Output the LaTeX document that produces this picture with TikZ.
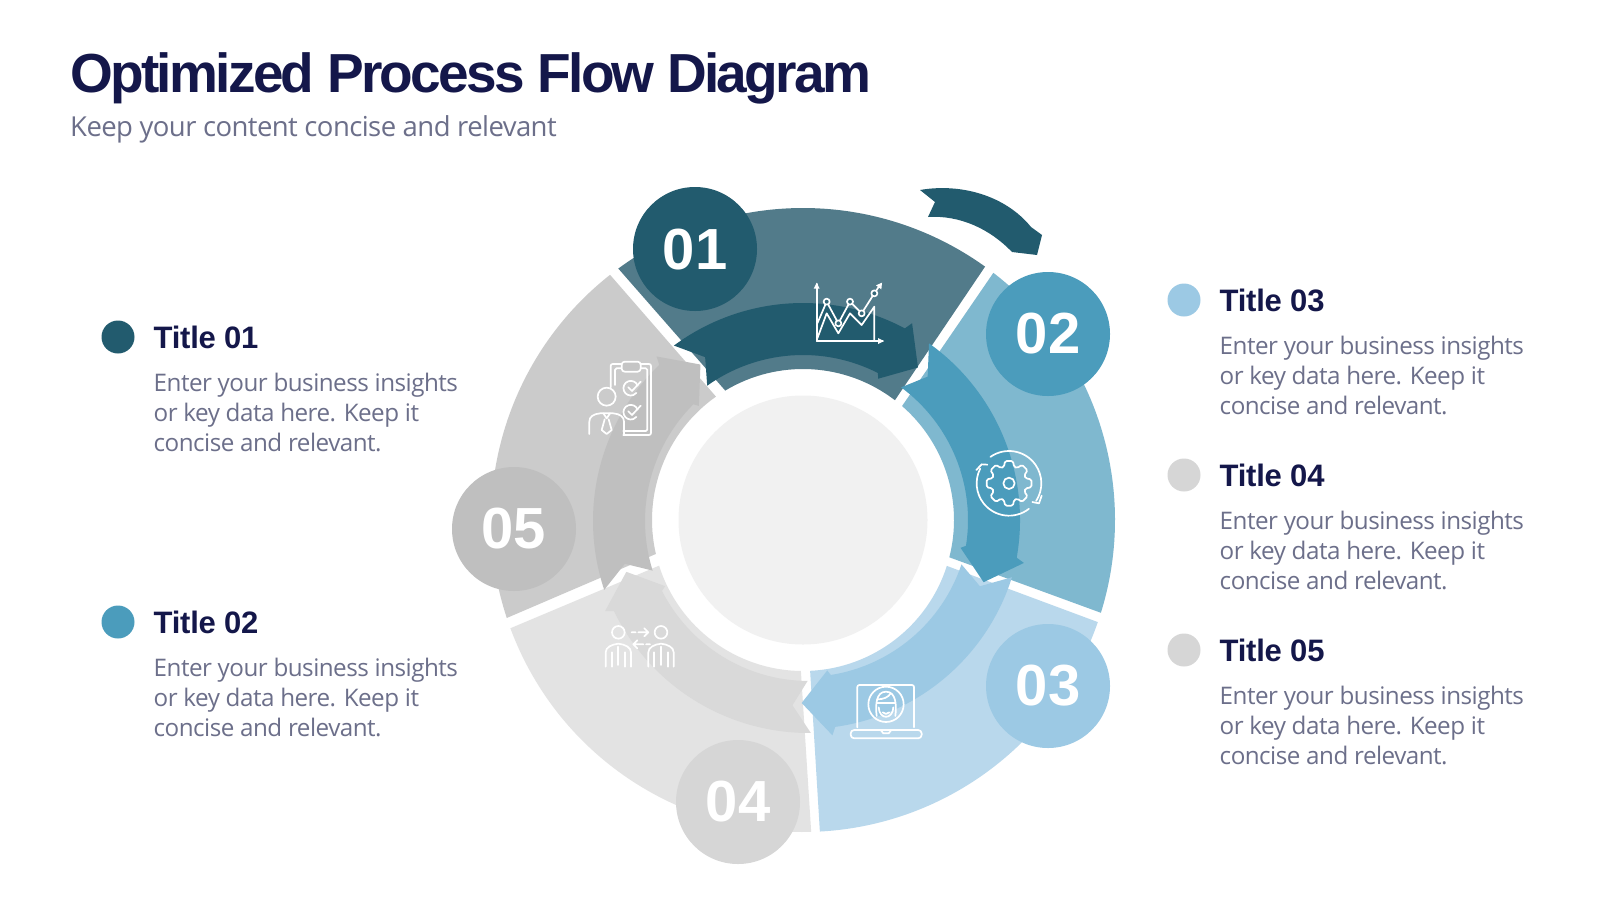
\documentclass[tikz,border=0pt]{standalone}
\usepackage{fontspec}
\setmainfont[LetterSpace=-2.1]{Open Sans}
\newfontfamily\headfont[LetterSpace=-4.9]{Liberation Sans}
\newfontfamily\subheadfont[LetterSpace=-0.8]{Liberation Sans}
\newfontfamily\numfont{Liberation Sans}
\definecolor{navy}{HTML}{14174A}
\definecolor{greytext}{HTML}{6C6F8A}
\definecolor{cA}{HTML}{225B6E}\definecolor{sA}{HTML}{527B8A}
\definecolor{cB}{HTML}{4B9CBC}\definecolor{sB}{HTML}{7FB8CF}
\definecolor{cC}{HTML}{9CC9E4}\definecolor{sC}{HTML}{B9D8EC}
\definecolor{cD}{HTML}{D6D6D6}\definecolor{sD}{HTML}{E3E3E3}
\definecolor{aD}{HTML}{D9D9D9}
\definecolor{cE}{HTML}{BFBFBF}\definecolor{sE}{HTML}{CBCBCB}
\definecolor{core}{HTML}{F1F1F1}
\tikzset{
  numdisc/.style={circle,minimum size=124pt,inner sep=0pt,text=white,font=\numfont\bfseries\fontsize{58}{58}\selectfont},
  legdot/.style={circle,minimum size=33pt,inner sep=0pt},
  legtitle/.style={anchor=base west,inner sep=0pt,text=navy,font=\subheadfont\bfseries\fontsize{31}{31}\selectfont},
  legbody/.style={anchor=base west,inner sep=0pt,text=greytext,font=\fontsize{24.2}{30}\selectfont},
  icon/.style={draw=white,line width=1.7pt,line cap=round,line join=round,fill=none},
}
% cx cy rotation colour
\newcommand{\flowarrow}[4]{%
 \begin{scope}[shift={(#1,-#2)},rotate=#3]
 \fill[#4] (126.5:217pt) arc[start angle=126.5,end angle=62,radius=217pt] -- (61:225pt) -- (53:191pt) -- (62:160pt) -- (63:165pt) arc[start angle=63,end angle=125.5,radius=165pt] -- (121:190pt) -- cycle;
 \end{scope}}
% a1 a2 a3 a4 colour: outer a1->a2, inner a3->a4
\newcommand{\ringpart}[5]{%
 \fill[#5] (#1:312pt) arc[start angle=#1,end angle=#2,radius=312pt] -- (#3:151pt) arc[start angle=#3,end angle=#4,radius=151pt] -- cycle;}
\newcommand{\legend}[6]{%
 \node[legdot,fill=#1] (#2d) at (#3,-#4) {};
 \node[legtitle] (#2t) at (#3+35.5,-#4-11) {#5};
 \node[legbody] (#2a) at (#3+35.5,-#4-54) {Enter your business insights};
 \node[legbody] (#2b) at (#3+35.5,-#4-84) {or key data here. Keep it};
 \node[legbody] (#2c) at (#3+35.5,-#4-114) {concise and relevant.};}
\begin{document}
\begin{tikzpicture}[x=1pt,y=1pt]
\useasboundingbox (0,0) rectangle (1600,-900);
\fill[white] (0,0) rectangle (1600,-900);
\node[anchor=base west,inner sep=0pt,text=navy,font=\headfont\bfseries\fontsize{55}{55}\selectfont] (title) at (70,-92) {Optimized Process Flow Diagram};
\node[anchor=base west,inner sep=0pt,text=greytext,font=\fontsize{27.5}{30}\selectfont] (sub) at (70,-136) {Keep your content concise and relevant};
% ring
\begin{scope}[shift={(803,-520)}]
\ringpart{126.3}{54.3}{52.5}{121}{sA}
\ringpart{52.4}{-17.3}{-14.3}{49}{sB}
\ringpart{-19.1}{-86.9}{-87.3}{-17.7}{sC}
\ringpart{-88.5}{-159.7}{-162.4}{-90.8}{sD}
\ringpart{-161.7}{-231.8}{-234.8}{-167}{sE}
\fill[core] (0,0) circle[radius=124.5pt];
\end{scope}
% inner arrows
\flowarrow{803}{520}{0}{cA}
\flowarrow{803}{520}{-72}{cB}
\flowarrow{805}{512}{-144}{cC}
\flowarrow{809}{516}{-216}{aD}
\flowarrow{810}{521}{-288}{cE}
% top arrow
\fill[cA] (920,-190) .. controls (960,-183) and (1005,-195) .. (1031,-227) -- (1042,-235) -- (1037,-255) -- (1012,-252) .. controls (990,-229) and (960,-215) .. (928,-217) -- (935,-202) -- cycle;
% number discs
\node[numdisc,fill=cA,text depth=0pt] (n1) at (695,-249) {\raisebox{-1pt}{01}};
\node[numdisc,fill=cB] (n2) at (1048,-334) {\raisebox{-1pt}{02}};
\node[numdisc,fill=cC] (n3) at (1048,-686) {\raisebox{-1pt}{03}};
\node[numdisc,fill=cD] (n4) at (738,-802) {\raisebox{-1pt}{04}};
\node[numdisc,fill=cE] (n5) at (514,-529) {\raisebox{-1pt}{05}};
% chart icon
\begin{scope}[shift={(780,-260)},scale=1/3]
\draw[icon] (110,-243) -- (110,-72);
\draw[icon] (110,-243) -- (308,-243);
\fill[white] (110,-68) -- (101,-86) -- (119,-86) -- cycle;
\fill[white] (312,-243) -- (294,-234) -- (294,-252) -- cycle;
\draw[icon] (112,-190) -- (140,-125) -- (175,-190) -- (210,-125) -- (245,-160) -- (283,-100) -- (300,-75);
\fill[white] (306,-68) -- (304,-88) -- (288,-76) -- cycle;
\draw[icon] (112,-235) -- (140,-160) -- (175,-220) -- (210,-160) -- (245,-195) -- (283,-140) -- (283,-243);
\foreach \px/\py in {140/125,175/190,210/125,245/160,283/100}{\fill[cA!60!sA] (\px,-\py) circle[radius=9pt];\draw[icon] (\px,-\py) circle[radius=9pt];}
\end{scope}
% gear icon
\begin{scope}[shift={(960,-440)},scale=1/3]
\begin{scope}[shift={(147,-130)}]
\draw[icon] (125:97pt) arc[start angle=125,end angle=-33,radius=97pt];
\draw[icon] (-52:97pt) arc[start angle=-52,end angle=-207,radius=97pt];
\draw[icon] (-98,40) -- (-82,57) -- (-65,56);
\draw[icon] (98,-37) -- (90,-60) -- (70,-56);
\draw[icon] (17pt,0) arc[start angle=0,end angle=360,radius=17pt];
\draw[icon,rounded corners=1.5pt] (0:68) -- (10:68) -- (17:52) -- (28:52) -- (35:68) -- (55:68) -- (62:52) -- (73:52) -- (80:68) -- (100:68) -- (107:52) -- (118:52) -- (125:68) -- (145:68) -- (152:52) -- (163:52) -- (170:68) -- (190:68) -- (197:52) -- (208:52) -- (215:68) -- (235:68) -- (242:52) -- (253:52) -- (260:68) -- (280:68) -- (287:52) -- (298:52) -- (305:68) -- (325:68) -- (332:52) -- (343:52) -- (350:68) -- cycle;
\end{scope}
\end{scope}
% laptop icon
\begin{scope}[shift={(840,-670)},scale=1/3]
\draw[icon,rounded corners=2pt] (52,-172) -- (52,-45) -- (222,-45) -- (222,-172);
\draw[icon,rounded corners=3.5pt] (32,-180) rectangle (245,-205);
\draw[icon] (122,-180) -- (130,-190) -- (146,-190) -- (154,-180);
\draw[icon] (138,-103) circle[radius=53pt];
\draw[icon] (110,-138) .. controls (106,-105) and (108,-65) .. (138,-65) .. controls (168,-65) and (170,-105) .. (166,-138);
\draw[icon] (112,-88) .. controls (130,-88) and (145,-82) .. (152,-70);
\draw[icon] (110,-100) -- (166,-100);
\draw[icon] (128,-127) .. controls (133,-133) and (143,-133) .. (148,-127);
\draw[icon] (116,-112) .. controls (118,-150) and (158,-150) .. (160,-112);
\end{scope}
% clipboard person icon
\begin{scope}[shift={(570,-350)},scale=1/3]
\draw[icon,rounded corners=2pt] (122,-112) -- (122,-42) -- (243,-42) -- (243,-255) -- (160,-255);
\draw[icon,rounded corners=1.5pt] (135,-105) -- (135,-55) -- (232,-55) -- (232,-243) -- (160,-243);
\draw[icon,rounded corners=3pt,fill=cE!50!sE] (155,-35) rectangle (212,-65);
\draw[icon] (203,-107) arc[start angle=20,end angle=320,radius=22pt];
\draw[icon] (175,-112) -- (186,-123) -- (212,-95);
\draw[icon] (203,-179) arc[start angle=20,end angle=320,radius=22pt];
\draw[icon] (175,-184) -- (186,-195) -- (212,-167);
\draw[icon] (110,-140) circle[radius=27pt];
\draw[icon] (58,-252) -- (58,-215) .. controls (58,-200) and (70,-192) .. (90,-190) -- (130,-190) .. controls (150,-192) and (162,-200) .. (162,-215) -- (162,-252);
\draw[icon] (100,-190) -- (110,-205) -- (120,-190) (104,-208) -- (95,-240) -- (110,-252) -- (125,-240) -- (116,-208);
\end{scope}
% two people icon
\begin{scope}[shift={(595,-615)},scale=1/3]
\foreach \ox in {0,128}{
\draw[icon] (70+\ox,-52) circle[radius=19pt];
\draw[icon] (32+\ox,-155) -- (32+\ox,-112) .. controls (32+\ox,-97) and (50+\ox,-88) .. (70+\ox,-86) .. controls (90+\ox,-88) and (108+\ox,-97) .. (108+\ox,-112) -- (108+\ox,-155);
\draw[icon] (50+\ox,-155) -- (50+\ox,-112) (90+\ox,-155) -- (90+\ox,-112) (70+\ox,-95) -- (70+\ox,-150);
}
\draw[icon] (110,-52) -- (122,-52) (130,-52) -- (160,-52) (148,-40) -- (160,-52) -- (148,-64);
\draw[icon] (165,-88) -- (153,-88) (145,-88) -- (115,-88) (127,-76) -- (115,-88) -- (127,-100);
\end{scope}
% legends
\legend{cA}{la}{118}{337}{Title 01}{}
\legend{cB}{lb}{118}{622}{Title 02}{}
\legend{cC}{lc}{1184}{300}{Title 03}{}
\legend{cD}{ld}{1184}{475}{Title 04}{}
\legend{cD}{le}{1184}{650}{Title 05}{}
\end{tikzpicture}
\end{document}
